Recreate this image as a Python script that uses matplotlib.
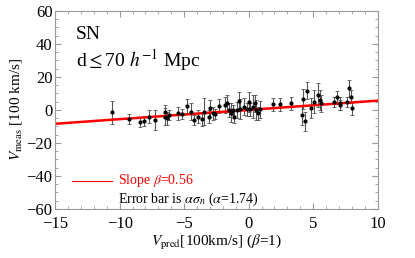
import numpy as np
import matplotlib.pyplot as plt
from matplotlib.ticker import MultipleLocator

plt.rcParams['font.family'] = ['Liberation Serif', 'DejaVu Serif']
plt.rcParams['mathtext.fontset'] = 'stix'

# datos
v_pred = [-10.6, -9.3, -8.4, -8.1, -7.7, -7.3, -6.5, -6.5, -6.3, -6.2, -5.5, -5.2,
          -4.8, -4.5, -4.2, -3.9, -3.6, -3.5, -3.1, -3.0, -2.75, -2.6, -2.3, -1.8,
          -1.7, -1.5, -1.4, -1.2, -1.1, -0.9, -0.75, -0.7, -0.35, -0.16, 0.0, 0.1,
          0.35, 0.5, 0.6, 0.7, 0.9, 1.9, 2.4, 3.3, 4.1, 4.2, 4.4, 4.5, 4.8, 5.1,
          5.4, 5.5, 5.6, 6.6, 6.85, 7.05, 7.1, 7.6, 7.8, 7.95, 8.0]
v_meas = [-1.4, -5.5, -7.5, -6.5, -4.0, -6.0, -1.0, -4.0, -5.0, -3.0, -2.0, -2.6,
          2.4, -1.0, -6.0, -4.0, -5.6, -1.0, -4.0, 1.0, -2.0, -2.6, 2.4, 3.0,
          4.0, 0.0, -1.6, 0.0, -4.0, 0.0, 5.6, 0.4, 2.0, 0.4, 5.0, 0.4,
          2.0, 4.0, 0.0, -2.0, 0.4, 3.4, 3.4, 4.0, -3.0, 6.5, -7.0, 11.7, 1.0, 5.0,
          9.0, 6.0, 4.0, 4.7, 7.7, 4.0, 3.0, 5.0, 13.0, 8.0, 1.0]
err = [7, 3, 3, 3, 4, 6, 4, 5, 4, 3, 4, 3,
       4, 5, 3, 4, 4, 8, 4, 5, 4, 3, 4, 5,
       5, 4, 6, 3, 4, 5, 5, 6, 5, 4, 6, 4,
       7, 5, 6, 4, 5, 4, 4, 4, 6, 6, 6, 5, 6, 7,
       7, 6, 5, 3, 4, 4, 3, 3, 5, 4, 4]
pendiente = 0.56

fig, ax = plt.subplots(figsize=(4.15, 2.58), dpi=100)
fig.subplots_adjust(left=0.133, right=0.91, top=0.958, bottom=0.19)

ax.errorbar(v_pred, v_meas, yerr=err, fmt='o', ms=2, color='black',
            ecolor='#555555', elinewidth=0.8, capsize=1.5, capthick=0.6)
xx = np.array([-15, 10])
ax.plot(xx, pendiente * xx, color='red', lw=1.8)

ax.set_xlim(-15, 10)
ax.set_ylim(-60, 60)
ax.xaxis.set_major_locator(MultipleLocator(5))
ax.xaxis.set_minor_locator(MultipleLocator(1))
ax.yaxis.set_major_locator(MultipleLocator(20))
ax.yaxis.set_minor_locator(MultipleLocator(5))
ax.tick_params(which='both', direction='in', top=True, right=True,
               color='#999999', labelsize=12, pad=2)
ax.tick_params(axis='x', pad=5)
ax.tick_params(which='major', length=4)
ax.tick_params(which='minor', length=2)
for s in ax.spines.values():
    s.set_color('#999999')

ax.set_xlabel(r'$V_{\rm pred}$[100km/s] ($\beta$=1)', fontsize=11, labelpad=1)
ax.set_ylabel(r'$V_{\rm meas}$ [100 km/s]', fontsize=11, labelpad=2)

ax.text(0.065, 0.88, 'SN', transform=ax.transAxes, fontsize=14, va='center')
ax.text(0.065, 0.75, r'd$\leq$70 $h^{-1}$ Mpc', transform=ax.transAxes, fontsize=14, va='center')

ax.plot([-13.7, -10.6], [-43, -43], color='red', lw=0.8)
ax.text(-10.1, -43, r'Slope $\beta$=0.56', color='red', fontsize=10, va='center')
ax.text(-10.1, -54, r'Error bar is $\alpha\sigma_n$ ($\alpha$=1.74)', color='black', fontsize=10, va='center')

plt.savefig('out.png')
